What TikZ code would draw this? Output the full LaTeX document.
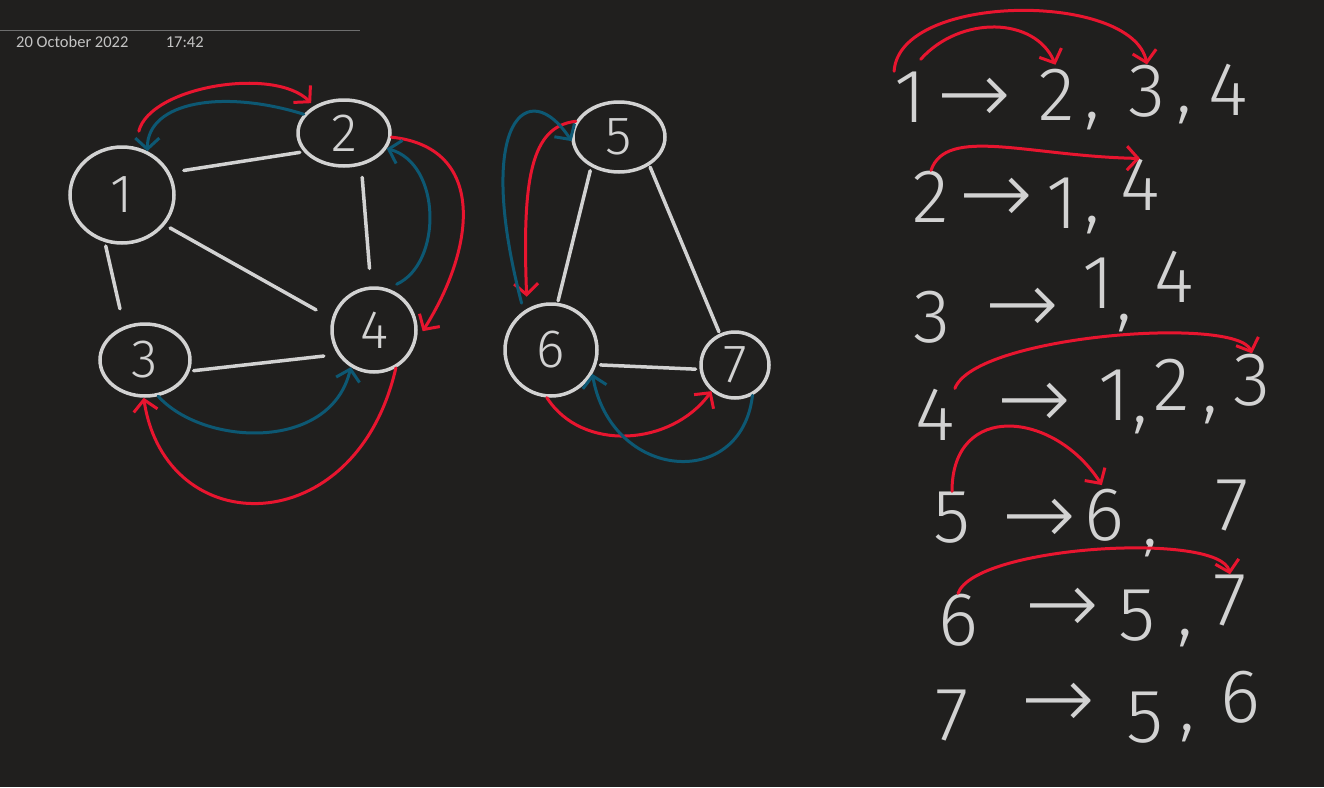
\documentclass[tikz,border=0pt]{standalone}
\usepackage{fontspec}
\usetikzlibrary{shapes.geometric, arrows.meta, positioning}

\IfFontExistsTF{Fira Sans Light}{\newfontfamily\inkfont{Fira Sans Light}}{\newfontfamily\inkfont{Fira Sans}}
\IfFontExistsTF{DejaVu Sans ExtraLight}{\newfontfamily\arrowfont{DejaVu Sans ExtraLight}}{\newfontfamily\arrowfont{DejaVu Sans}}
\newfontfamily\datefont{Carlito}

\definecolor{board}{HTML}{201F1E}
\definecolor{chalk}{HTML}{D2D2D2}
\definecolor{redink}{HTML}{E8152F}
\definecolor{blueink}{HTML}{0D5873}
\definecolor{rulegray}{HTML}{6E6E6E}
\definecolor{stampgray}{HTML}{C4C4C4}

\tikzset{
	vertex/.style={ellipse, draw=chalk, line width=3.5pt, text=chalk, inner sep=0pt,
		font=\inkfont\fontsize{54}{54}\selectfont},
	link/.style={color=chalk, line width=3.5pt, line cap=round},
	redarc/.style={color=redink, line width=3pt, line cap=round, line join=round,
		-{Straight Barb[length=11pt, width=24pt]}},
	bluearc/.style={color=blueink, line width=3pt, line cap=round, line join=round,
		-{Straight Barb[length=11pt, width=24pt]}},
	entry/.style={text=chalk, inner sep=0pt, anchor=base,
		font=\inkfont\fontsize{76}{76}\selectfont},
	pointer/.style={entry, font=\arrowfont\fontsize{88}{88}\selectfont},
	stamp/.style={text=stampgray, inner sep=0pt, font=\datefont\fontsize{16.5}{16.5}\selectfont}
}

\begin{document}
\begin{tikzpicture}[x=1pt, y=-1pt]
	\useasboundingbox (0,0) rectangle (1324,787);
	\fill[board] (0,0) rectangle (1324,787);

	\draw[rulegray, line width=1pt] (0,30) -- (360,30);
	\node[stamp, anchor=west] (date) at (16,42) {20 October 2022};
	\node[stamp, right=37pt of date] (time) {17:42};

	% first graph
	\node[vertex, minimum width=104pt, minimum height=96pt] (v1) at (122,195) {1};
	\node[vertex, minimum width=92pt, minimum height=66pt] (v2) at (344,133) {2};
	\node[vertex, minimum width=90pt, minimum height=72pt] (v3) at (145,360) {3};
	\node[vertex, minimum width=84pt, minimum height=84pt] (v4) at (374,330) {4};

	% second graph
	\node[vertex, minimum width=92pt, minimum height=70pt] (v5) at (619,137) {5};
	\node[vertex, minimum width=92pt, minimum height=92pt] (v6) at (551,350) {6};
	\node[vertex, minimum width=68pt, minimum height=66pt] (v7) at (735,365) {7};

	\draw [link]
		(v1.25) edge[shorten <=14pt, shorten >=4pt] (v2.205)
		(v1.250) edge[shorten <=4pt, shorten >=18pt] (v3.122)
		(v1.325) edge[shorten <=6pt, shorten >=18pt] (v4.165)
		(v2.298) edge[shorten <=12pt, shorten >=18pt] (v4.94)
		(v3.346) edge[shorten <=4pt, shorten >=14pt] (v4.214)
		(v5.227) edge[shorten <=4pt, shorten >=2pt] (v6.82)
		(v5.317) edge[shorten <=2pt, shorten >=2pt] (v7.116)
		(v6.342) edge[shorten <=4pt, shorten >=4pt] (v7.187)
		;

	\draw[redarc, shorten <=16pt, shorten >=4pt] (v1.75) .. controls +(15,-60) and +(-40,-40) .. (v2.138);
	\draw[redarc, shorten >=12pt] (v2.355) .. controls +(95,10) and +(60,-95) .. (v4.345);
	\draw[redarc] (v4.300) .. controls +(-40,175) and +(22,145) .. (v3.268);
	\draw[bluearc] (v2.155) .. controls +(-80,-25) and +(0,-50) .. (v1.60);
	\draw[bluearc, shorten <=10pt] (v4.72) .. controls +(55,-25) and +(55,15) .. (v2.340);
	\draw[bluearc] (v3.290) .. controls +(45,50) and +(-20,85) .. (v4.238);

	\draw[redarc, shorten >=12pt] (v5.160) .. controls +(-45,5) and +(-5,-130) .. (v6.120);
	\draw[redarc] (v6.265) .. controls +(35,55) and +(-40,55) .. (v7.228);
	\draw[bluearc, shorten <=8pt] (v6.125) .. controls +(-50,-192) and +(-43,-66) .. (v5.185);
	\draw[bluearc] (v7.300) .. controls +(-11,96) and +(19,107) .. (v6.330);

	% adjacency list
	\node[entry] (s1) at (910,122) {1};
	\node[pointer] (p1) at (974,123) {→};
	\node[entry] (t12) at (1057,120) {2};
	\node[entry] (c1a) at (1092,118) {,};
	\node[entry] (t13) at (1147,116) {3};
	\node[entry] (c1b) at (1184,112) {,};
	\node[entry] (t14) at (1228,115) {4};

	\node[entry] (s2) at (931,222) {2};
	\node[pointer] (p2) at (996,223) {→};
	\node[entry] (t21) at (1062,228) {1};
	\node[entry] (c2a) at (1092,222) {,};
	\node[entry] (t24) at (1140,210) {4};

	\node[entry] (s3) at (932,342) {3};
	\node[pointer] (p3) at (1022,333) {→};
	\node[entry] (t31) at (1098,308) {1};
	\node[entry] (c3a) at (1124,320) {,};
	\node[entry] (t34) at (1174,302) {4};

	\node[entry] (s4) at (935,440) {4};
	\node[pointer] (p4) at (1034,428) {→};
	\node[entry] (t41) at (1114,420) {1};
	\node[entry] (c4a) at (1140,422) {,};
	\node[entry] (t42) at (1172,410) {2};
	\node[entry] (c4b) at (1210,412) {,};
	\node[entry] (t43) at (1252,405) {3};

	\node[entry] (s5) at (952,542) {5};
	\node[pointer] (p5) at (1039,544) {→};
	\node[entry] (t56) at (1104,540) {6};
	\node[entry] (c5a) at (1150,545) {,};
	\node[entry] (t57) at (1232,530) {7};

	\node[entry] (s6) at (958,645) {6};
	\node[pointer] (p6) at (1062,633) {→};
	\node[entry] (t65) at (1137,640) {5};
	\node[entry] (c6a) at (1185,635) {,};
	\node[entry] (t67) at (1230,625) {7};

	\node[entry] (s7) at (952,740) {7};
	\node[pointer] (p7) at (1058,728) {→};
	\node[entry] (t75) at (1145,742) {5};
	\node[entry] (c7a) at (1187,730) {,};
	\node[entry] (t76) at (1240,722) {6};

	\draw[redarc] (s1.north west) .. controls +(5,-79) and +(-15,-73) .. (t13.north);
	\draw[redarc, shorten <=16pt, shorten >=4pt] (s1.north) .. controls +(50,-56) and +(-22,-52) .. (t12.north);
	\draw[redarc] (s2.north) .. controls +(15,-45) and +(-110,-2) .. (t24.north);
	\draw[redarc] (s4.north east) .. controls +(20,-53) and +(-15,-38) .. (t43.north);
	\draw[redarc, shorten >=4pt] (s5.north) .. controls +(0,-90) and +(-50,-78) .. (t56.north);
	\draw[redarc] (s6.north) .. controls +(17,-48) and +(-10,-43) .. (t67.north);
\end{tikzpicture}
\end{document}
